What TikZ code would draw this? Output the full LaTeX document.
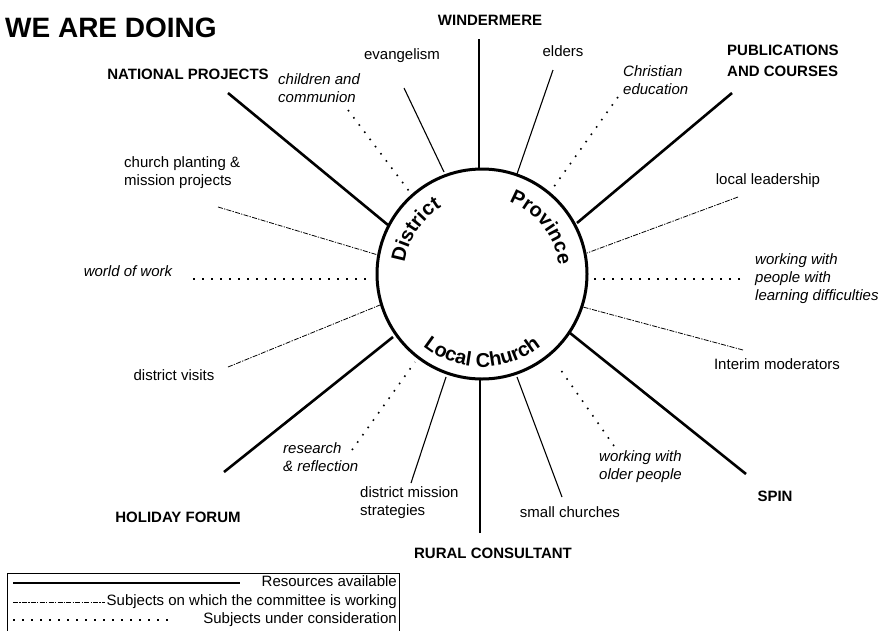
\documentclass[tikz,border=0pt]{standalone}
\usepackage{fontspec}
\setmainfont{Liberation Sans}
\usetikzlibrary{decorations.text}
\newcommand\hubfont{\fontsize{20}{20}\selectfont\bfseries}
\begin{document}
\begin{tikzpicture}[x=1pt,y=1pt,
  lab/.style={inner sep=0pt, font=\fontsize{15}{18}\selectfont},
  ilab/.style={inner sep=0pt, font=\fontsize{15}{18}\selectfont\itshape},
  head/.style={inner sep=0pt, font=\fontsize{15}{21}\selectfont\bfseries},
  res/.style={line width=2.6pt},
  thinres/.style={line width=1.1pt},
  work/.style={line width=0.8pt, dash pattern=on 5pt off 1.3pt on 1.3pt off 1.3pt},
  cons/.style={line width=1.6pt, dash pattern=on 1.6pt off 7.4pt},
]
\useasboundingbox (0,0) rectangle (885,-630);
\fill[white] (0,0) rectangle (885,-630);

% title
\node[inner sep=0pt, anchor=west, font=\fontsize{28}{30}\selectfont\bfseries] (title) at (5,-28) {WE ARE DOING};

% spoke end points
\coordinate (windO) at (479,-39);  \coordinate (windI) at (479,-169);
\coordinate (natO) at (228,-93);   \coordinate (natI) at (388,-225);
\coordinate (pubO) at (732,-93);   \coordinate (pubI) at (577,-223);
\coordinate (holO) at (224,-472);  \coordinate (holI) at (393,-337);
\coordinate (rurO) at (480,-533);  \coordinate (rurI) at (480,-380);
\coordinate (spinO) at (746,-474); \coordinate (spinI) at (570,-333);
\coordinate (evO) at (404,-88);    \coordinate (evI) at (444,-172);
\coordinate (elO) at (553,-70);    \coordinate (elI) at (517,-174);
\coordinate (dmO) at (411,-483);   \coordinate (dmI) at (446,-377);
\coordinate (scO) at (562,-497);   \coordinate (scI) at (517,-377);
\coordinate (cpO) at (218,-207);   \coordinate (cpI) at (378,-255);
\coordinate (dvO) at (228,-367);   \coordinate (dvI) at (380,-305);
\coordinate (llO) at (738,-197);   \coordinate (llI) at (587,-253);
\coordinate (imO) at (743,-350);   \coordinate (imI) at (583,-307);
\coordinate (chO) at (348,-110);   \coordinate (chI) at (409,-191);
\coordinate (ceO) at (618,-97);    \coordinate (ceI) at (553,-188);
\coordinate (wwO) at (193,-279);   \coordinate (wwI) at (370,-279);
\coordinate (ldO) at (740,-279);   \coordinate (ldI) at (593,-279);
\coordinate (rrO) at (352,-450);   \coordinate (rrI) at (415,-362);
\coordinate (opO) at (614,-446);   \coordinate (opI) at (558,-366);

% resources available
\draw[res] (windO) -- (windI);
\draw[res] (natO) -- (natI);
\draw[res] (pubO) -- (pubI);
\draw[res] (holO) -- (holI);
\draw[res] (rurO) -- (rurI);
\draw[res] (spinO) -- (spinI);
\draw[thinres] (evO) -- (evI);
\draw[thinres] (elO) -- (elI);
\draw[thinres] (dmO) -- (dmI);
\draw[thinres] (scO) -- (scI);
% subjects on which the committee is working
\draw[work] (cpO) -- (cpI);
\draw[work] (dvO) -- (dvI);
\draw[work] (llO) -- (llI);
\draw[work] (imO) -- (imI);
% subjects under consideration
\draw[cons] (chO) -- (chI);
\draw[cons] (ceO) -- (ceI);
\draw[cons] (wwO) -- (wwI);
\draw[cons] (ldO) -- (ldI);
\draw[cons] (rrO) -- (rrI);
\draw[cons] (opO) -- (opI);

% hub
\coordinate (c) at (482,-274);
\node[draw, circle, line width=3pt, minimum size=210pt, inner sep=0pt] (hub) at (c) {};
\path[decorate, decoration={text along path, text={|\hubfont|District}, text align=center}]
  (c) ++(178:78) arc[start angle=178, end angle=115, radius=78];
\path[decorate, decoration={text along path, text={|\hubfont|Province}, text align=center}]
  (c) ++(72:77) arc[start angle=72, end angle=4, radius=77];
\path[decorate, decoration={text along path, text={|\hubfont|Local Church}, text align=center}]
  (c) ++(222:93) arc[start angle=222, end angle=318, radius=93];

% bold headings
\node[head] (wind) at (490,-20) {WINDERMERE};
\node[head] (nat) at (188,-74) {NATIONAL PROJECTS};
\node[head, anchor=north west, align=left] (pub) at (727,-44.5) {PUBLICATIONS\\AND COURSES};
\node[head] (hol) at (178,-517) {HOLIDAY FORUM};
\node[head] (rur) at (493,-553) {RURAL CONSULTANT};
\node[head] (spin) at (775,-496) {SPIN};

% regular labels
\node[lab, anchor=mid] (ev) at (402,-57) {evangelism};
\node[lab, anchor=mid] (el) at (563,-54) {elders};
\node[lab, anchor=mid] (ll) at (768,-182) {local leadership};
\node[lab, anchor=mid] (im) at (777,-367) {Interim moderators};
\node[lab, anchor=mid] (sc) at (570,-515) {small churches};
\node[lab, anchor=mid] (dv) at (174,-378) {district visits};
\node[lab, anchor=north west, align=left] (cp) at (124,-156) {church planting \&\\mission projects};
\node[lab, anchor=north west, align=left] (dm) at (360,-486) {district mission\\strategies};

% italic labels
\node[ilab, anchor=north west, align=left] (ch) at (278,-73) {children and\\communion};
\node[ilab, anchor=north west, align=left] (ce) at (623,-65) {Christian\\education};
\node[ilab, anchor=mid] (ww) at (128,-274) {world of work};
\node[ilab, anchor=north west, align=left] (ld) at (755,-253) {working with\\people with\\learning difficulties};
\node[ilab, anchor=north west, align=left] (rr) at (283,-442) {research\\\& reflection};
\node[ilab, anchor=north west, align=left] (op) at (599,-450) {working with\\older people};

% legend
\draw[line width=0.9pt] (7,-634) -- (7,-573) -- (399,-573) -- (399,-634);
\coordinate (k1a) at (13,-583); \coordinate (k1b) at (240,-583);
\coordinate (k2a) at (13,-602); \coordinate (k2b) at (105,-602);
\coordinate (k3a) at (13,-620); \coordinate (k3b) at (170,-620);
\draw[line width=2pt] (k1a) -- (k1b);
\draw[work] (k2a) -- (k2b);
\draw[cons] (k3a) -- (k3b);
\node[lab, anchor=mid east] (lg1) at (397,-584) {Resources available};
\node[lab, anchor=mid east] (lg2) at (397,-603) {Subjects on which the committee is working};
\node[lab, anchor=mid east] (lg3) at (397,-621) {Subjects under consideration};
\end{tikzpicture}
\end{document}
